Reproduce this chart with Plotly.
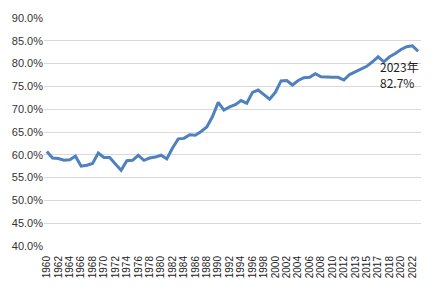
import plotly.graph_objects as go

years = [str(y) for y in range(1960, 2013)] + [
    "2013", "2013", "2014", "2015", "2016", "2017", "2017", "2018",
    "2019", "2020", "2021", "2022", "2023"]

values = [
    60.7, 59.3, 59.2, 58.8, 58.9, 59.7, 57.5, 57.7, 58.1, 60.4,
    59.4, 59.4, 58.0, 56.6, 58.7, 58.8, 59.9, 58.8, 59.3, 59.5,
    59.9, 59.1, 61.5, 63.5, 63.6, 64.4, 64.3, 65.1, 66.1, 68.4,
    71.5, 69.8, 70.5, 71.0, 71.9, 71.3, 73.7, 74.2, 73.2, 72.2,
    73.7, 76.2, 76.3, 75.3, 76.3, 76.9, 77.0, 77.8, 77.1, 77.0,
    77.0, 77.0, 76.4, 77.6, 78.2, 78.7, 79.4, 80.4, 81.5, 80.4,
    81.5, 82.2, 83.1, 83.7, 83.9, 82.7]

y_ticks = [40, 45, 50, 55, 60, 65, 70, 75, 80, 85, 90]
y_labels = [f"{v:.1f}%" for v in y_ticks]

last_label = "2023年<br>82.7%"

idx = list(range(len(years)))

fig = go.Figure()
fig.add_trace(go.Scatter(
    x=idx, y=values, mode="lines",
    line=dict(color="#4F81BD", width=3),
    hoverinfo="skip", showlegend=False))

fig.add_annotation(
    x=idx[-1], y=values[-1], xref="x", yref="y",
    text=last_label, showarrow=False,
    xanchor="right", yanchor="top", align="left",
    xshift=3, yshift=-5,
    font=dict(family="Noto Sans CJK SC", size=12, color="#222222"))

fig.update_layout(
    width=436, height=290,
    margin=dict(l=43, r=15, t=12, b=44),
    paper_bgcolor="white", plot_bgcolor="white",
    xaxis=dict(
        range=[-0.5, len(years) - 0.5],
        tickmode="array", tickvals=idx[::2], ticktext=years[::2],
        tickangle=-90, showgrid=False, zeroline=False, showline=False,
        ticks="outside", ticklen=5, tickcolor="rgba(0,0,0,0)",
        tickfont=dict(family="Liberation Sans", size=10, color="#222222")),
    yaxis=dict(
        range=[40, 90], tickmode="array", tickvals=y_ticks, ticktext=y_labels,
        showgrid=True, gridcolor="#D9D9D9", gridwidth=1,
        zeroline=False, showline=False,
        tickfont=dict(family="Liberation Sans", size=11, color="#333333")),
)

fig.write_html("out.html")
